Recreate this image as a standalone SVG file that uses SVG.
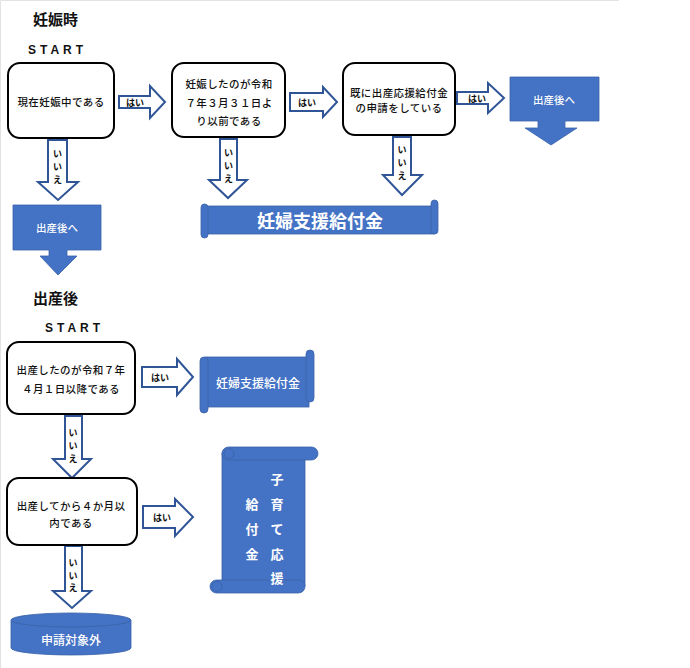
<svg xmlns="http://www.w3.org/2000/svg" width="690" height="668" viewBox="0 0 690 668">
<style>
text{font-family:"Noto Sans CJK JP","Noto Sans CJK SC",sans-serif;fill:#111;text-anchor:middle;dominant-baseline:central}
.box{fill:#fff;stroke:#000;stroke-width:2}
.t{font-size:10.5px;letter-spacing:0.4px;font-weight:500}
.title{font-size:15px;font-weight:bold;text-anchor:start}
.start{font-family:"Liberation Sans",Arial,sans-serif;font-size:12px;font-weight:bold;letter-spacing:4px;text-anchor:start}
.arr{fill:#fff;stroke:#2F5597;stroke-width:2;stroke-linejoin:miter}
.lbl{font-size:9px;font-weight:bold}
.blue{fill:#4472C4;stroke:#3A62A8;stroke-width:0.8}
.wt{fill:#fff;font-weight:bold}
.wn{fill:#fff;font-weight:500}
.edge{stroke:#e2e2e2;stroke-width:1;fill:none}
</style>
<rect width="690" height="668" fill="#fff"/>
<path class="edge" d="M0.5,668 V0.5 H619"/>

<text class="title" x="33" y="18">妊娠時</text>
<text class="start" x="28" y="50">START</text>
<text class="title" x="33" y="297">出産後</text>
<text class="start" x="45" y="328">START</text>

<g id="connectors">
  <g id="yes1"><path class="arr" d="M119,96 H150 V86 L165,102 L150,118 V108 H119 Z"/><text class="lbl" x="135" y="102">はい</text></g>
  <g id="yes2"><path class="arr" d="M290,93 H323 V87 L337,102 L323,117 V111 H290 Z"/><text class="lbl" x="307" y="102">はい</text></g>
  <g id="yes3"><path class="arr" d="M457,92 H488 V83 L504,98 L488,113 V104 H457 Z"/><text class="lbl" x="477" y="98">はい</text></g>
  <g id="yes4"><path class="arr" d="M142,367 H177 V359 L193,377 L177,395 V387 H142 Z"/><text class="lbl" x="160" y="377">はい</text></g>
  <g id="yes5"><path class="arr" d="M143,506 H175 V499 L193,517 L175,536 V528 H143 Z"/><text class="lbl" x="162" y="517">はい</text></g>

  <g id="no1"><path class="arr" d="M48,140 H67 V182 H78 L58,200 L38,182 H48 Z"/><text class="lbl" x="57.5" y="153">い</text><text class="lbl" x="57.5" y="166">い</text><text class="lbl" x="57.5" y="179">え</text></g>
  <g id="no2"><path class="arr" d="M220,139 H237 V180 H247 L228,198 L209,180 H220 Z"/><text class="lbl" x="228.5" y="152">い</text><text class="lbl" x="228.5" y="165">い</text><text class="lbl" x="228.5" y="178">え</text></g>
  <g id="no3"><path class="arr" d="M393,137 H411 V175 H422 L402,195 L383,175 H393 Z"/><text class="lbl" x="402" y="149">い</text><text class="lbl" x="402" y="162">い</text><text class="lbl" x="402" y="175">え</text></g>
  <g id="no4"><path class="arr" d="M65,416 H82 V459 H91 L72,478 L53,459 H65 Z"/><text class="lbl" x="73" y="432">い</text><text class="lbl" x="73" y="445">い</text><text class="lbl" x="73" y="458">え</text></g>
  <g id="no5"><path class="arr" d="M65,546 H82 V591 H91 L72,608 L53,591 H65 Z"/><text class="lbl" x="73" y="562">い</text><text class="lbl" x="73" y="575">い</text><text class="lbl" x="73" y="587">え</text></g>
</g>

<g id="q1"><rect class="box" x="8" y="63" width="106" height="75" rx="12"/><text class="t" x="61" y="101">現在妊娠中である</text></g>
<g id="q2"><rect class="box" x="172" y="63" width="113" height="74" rx="12"/>
  <text class="t" x="229" y="83">妊娠したのが令和</text><text class="t" x="229" y="102">７年３月３１日よ</text><text class="t" x="229" y="120">り以前である</text></g>
<g id="q3"><rect class="box" x="343" y="63" width="112" height="72" rx="12"/>
  <text class="t" x="399" y="92">既に出産応援給付金</text><text class="t" x="399" y="107">の申請をしている</text></g>

<g id="after1"><path class="blue" d="M510,77 H599 V121 H565 V128 H577 L551,145 L525,128 H538 V121 H510 Z"/><text class="wn" x="554" y="99" style="font-size:10.5px">出産後へ</text></g>
<g id="after2"><path class="blue" d="M13,205 H101 V250 H67 V256 H77 L58,275 L40,256 H49 V250 H13 Z"/><text class="wn" x="57" y="227" style="font-size:10.5px">出産後へ</text></g>

<g id="banner1">
  <rect class="blue" x="205" y="206" width="229" height="28"/>
  <rect class="blue" x="431" y="200" width="7" height="34" rx="3.5"/>
  <rect class="blue" x="201" y="204" width="7" height="34" rx="3.5"/>
  <text class="wt" x="320" y="220" style="font-size:18px">妊婦支援給付金</text>
</g>

<g id="q4"><rect class="box" x="7" y="342" width="128" height="72" rx="12"/>
  <text class="t" x="71" y="369">出産したのが令和７年</text><text class="t" x="71" y="388">４月１日以降である</text></g>

<g id="banner2">
  <rect class="blue" x="205" y="357" width="104" height="50"/>
  <rect class="blue" x="306" y="350" width="8" height="52" rx="4"/>
  <rect class="blue" x="200" y="357" width="8" height="56" rx="4"/>
  <text class="wn" x="258" y="382" style="font-size:12px">妊婦支援給付金</text>
</g>

<g id="q5"><rect class="box" x="7" y="478" width="130" height="67" rx="12"/>
  <text class="t" x="71" y="505">出産してから４か月以</text><text class="t" x="71" y="522">内である</text></g>

<g id="scroll">
  <rect class="blue" x="222" y="453" width="83" height="133"/>
  <rect class="blue" x="222" y="447" width="96" height="13" rx="6.5"/>
  <circle class="blue" cx="229" cy="453.5" r="5"/>
  <rect class="blue" x="210" y="580" width="95" height="13" rx="6.5"/>
  <circle class="blue" cx="217" cy="586.5" r="5"/>
  <g style="font-size:13px">
    <text class="wt" x="277" y="478">子</text><text class="wt" x="277" y="503">育</text><text class="wt" x="277" y="528">て</text><text class="wt" x="277" y="553">応</text><text class="wt" x="277" y="577">援</text>
    <text class="wt" x="252" y="503">給</text><text class="wt" x="252" y="528">付</text><text class="wt" x="252" y="553">金</text>
  </g>
</g>

<g id="out">
  <path class="blue" d="M11,620 V648 A60,7 0 0 0 131,648 V620 Z"/>
  <ellipse class="blue" cx="71" cy="620" rx="60" ry="7"/>
  <text class="wn" x="71" y="639" style="font-size:12px">申請対象外</text>
</g>
</svg>
